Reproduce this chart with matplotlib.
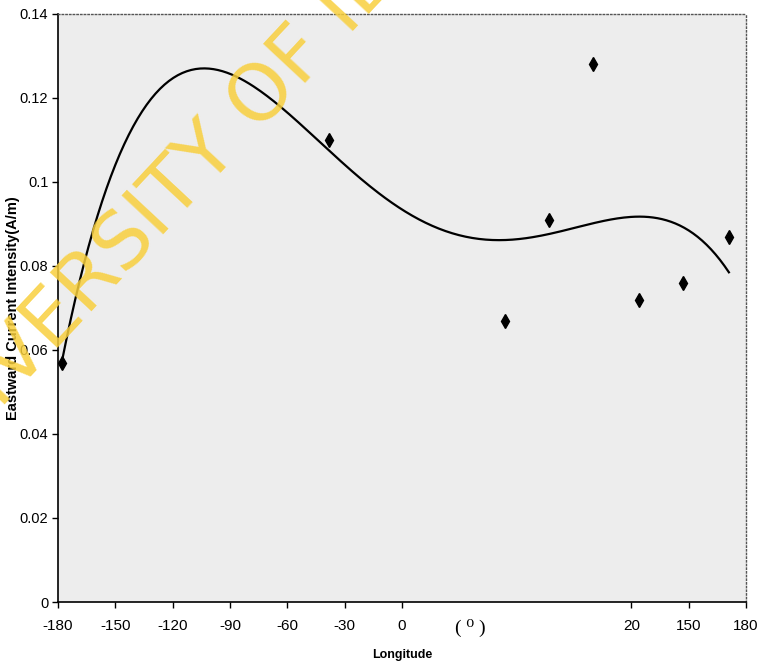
import numpy as np
import matplotlib.pyplot as plt

# longitude (deg) and eastward current intensity (A/m)
lon = [-178, -38, 54, 77, 100, 124, 147, 171]
current = [0.057, 0.110, 0.067, 0.091, 0.128, 0.072, 0.076, 0.087]

xtick_pos = [-180, -150, -120, -90, -60, -30, 0, 120, 150, 180]
xtick_lab = ['-180', '-150', '-120', '-90', '-60', '-30', '0', '20', '150', '180']
ytick_pos = [0, 0.02, 0.04, 0.06, 0.08, 0.1, 0.12, 0.14]
ytick_lab = ['0', '0.02', '0.04', '0.06', '0.08', '0.1', '0.12', '0.14']

TICK_FONT = ['Liberation Sans Narrow', 'Liberation Sans', 'DejaVu Sans']

fig = plt.figure(figsize=(7.59, 6.63), dpi=100)
ax = fig.add_axes([0.0764, 0.092, 0.9066, 0.887])
ax.set_facecolor('#EDEDED')

ax.plot(lon, current, linestyle='none', marker='d', markersize=7,
        color='black', zorder=3)

# 4th order polynomial trend line through the points
coef = np.polyfit(lon, current, 4)
xs = np.linspace(min(lon), max(lon), 300)
ax.plot(xs, np.polyval(coef, xs), color='black', linewidth=1.6, zorder=2)

ax.set_xlim(-180, 180)
ax.set_ylim(0, 0.14)
ax.set_xticks(xtick_pos)
ax.set_xticklabels(xtick_lab, family=TICK_FONT, fontsize=11)
ax.set_yticks(ytick_pos)
ax.set_yticklabels(ytick_lab, family=TICK_FONT, fontsize=10.5)
ax.tick_params(axis='x', direction='out', length=4, width=1, pad=8)
ax.tick_params(axis='y', direction='out', length=4, width=1, pad=3)

for s in ['top', 'right']:
    ax.spines[s].set_linestyle(':')
    ax.spines[s].set_color('#555555')
    ax.spines[s].set_linewidth(1)
for s in ['left', 'bottom']:
    ax.spines[s].set_linewidth(1.2)

ax.set_xlabel('Longitude', family=['Liberation Sans', 'DejaVu Sans'],
              fontweight='bold', fontsize=9, labelpad=12)
ax.set_ylabel('Eastward Current Intensity(A/m)',
              family=['Liberation Sans', 'DejaVu Sans'],
              fontweight='bold', fontsize=10.5)
ax.yaxis.set_label_coords(-0.055, 0.5)

# unit mark written under the axis
fig.text(470 / 759, 1 - 628 / 663, '( ⁰ )',
         family=['Liberation Serif', 'DejaVu Serif'], fontsize=14,
         ha='center', va='center')

# watermark
fig.text(222 / 759, 1 - 140 / 663, 'UNIVERSITY OF IBADAN',
         family=['DejaVu Sans'], fontsize=57, color='#F8CF3C', alpha=0.85,
         rotation=47, ha='center', va='center', rotation_mode='anchor',
         zorder=10)

fig.savefig('out.png', dpi=100)
